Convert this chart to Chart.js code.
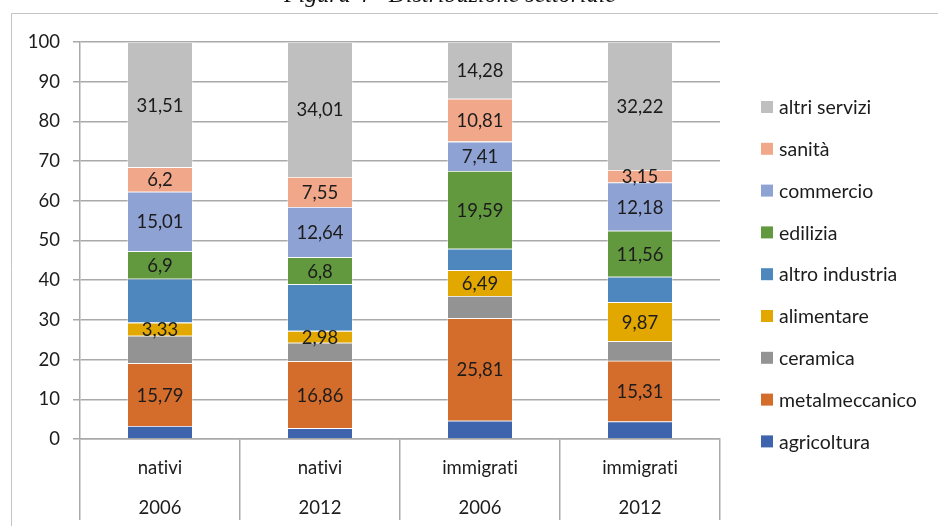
<!DOCTYPE html>
<html lang="it">
<head>
<meta charset="utf-8">
<title>Occupazione per settore</title>
<script src="https://cdn.jsdelivr.net/npm/chart.js@4.4.1/dist/chart.umd.min.js"></script>
<style>
  html, body { margin: 0; padding: 0; background: #fff; }
  #wrap { position: relative; width: 938px; height: 526px; }
</style>
</head>
<body>
<div id="wrap"><canvas id="sectorChart" width="938" height="526"></canvas></div>
<script>
// categories: two-level labels (group / year)
const groups = ["nativi", "nativi", "immigrati", "immigrati"];
const years = ["2006", "2012", "2006", "2012"];

// shares (%) per sector, bottom to top of each bar
const agricoltura = [3.3, 2.75, 4.6, 4.4];
const metalmeccanico = [15.79, 16.86, 25.81, 15.31];
const ceramica = [6.9, 4.65, 5.6, 4.9];
const alimentare = [3.33, 2.98, 6.49, 9.87];
const altroIndustria = [11.06, 11.76, 5.41, 6.41];
const edilizia = [6.9, 6.8, 19.59, 11.56];
const commercio = [15.01, 12.64, 7.41, 12.18];
const sanita = [6.2, 7.55, 10.81, 3.15];
const altriServizi = [31.51, 34.01, 14.28, 32.22];

const yTicks = [0, 10, 20, 30, 40, 50, 60, 70, 80, 90, 100];

// sectors whose values are printed on the bars
const labelledSeries = ["metalmeccanico", "alimentare", "edilizia", "commercio", "sanità", "altri servizi"];

const figureTitle = "Figura 4 - Distribuzione settoriale";

const FONT = "Lato, 'Open Sans', sans-serif";
const TEXT = "#1c1c1c";
const GRID = "#a9a9a9";

const series = [
  { label: "agricoltura", data: agricoltura, color: "#3e64ad" },
  { label: "metalmeccanico", data: metalmeccanico, color: "#d46c2b" },
  { label: "ceramica", data: ceramica, color: "#939393" },
  { label: "alimentare", data: alimentare, color: "#e3a800" },
  { label: "altro industria", data: altroIndustria, color: "#4e87bd" },
  { label: "edilizia", data: edilizia, color: "#62993e" },
  { label: "commercio", data: commercio, color: "#8fa2d4" },
  { label: "sanità", data: sanita, color: "#f1a88a" },
  { label: "altri servizi", data: altriServizi, color: "#bfbfbf" },
];

// light frame around the figure, caption above it (cut by the page edge)
const framePlugin = {
  id: "frame",
  beforeDraw(chart) {
    const ctx = chart.ctx;
    // no "ti"/"fi" ligatures in the labels
    ctx.textRendering = "optimizeSpeed";
    ctx.save();
    ctx.font = "italic 24px 'Liberation Serif', 'DejaVu Serif', serif";
    ctx.fillStyle = "#111";
    ctx.textBaseline = "alphabetic";
    ctx.fillText(figureTitle, 284, 2);
    ctx.strokeStyle = "#c4c4c4";
    ctx.lineWidth = 1;
    ctx.beginPath();
    ctx.moveTo(11.5, chart.height);
    ctx.lineTo(11.5, 13.5);
    ctx.lineTo(chart.width, 13.5);
    ctx.stroke();
    ctx.restore();
  },
};

// value labels in the middle of each segment
const valueLabels = {
  id: "valueLabels",
  afterDatasetsDraw(chart) {
    const ctx = chart.ctx;
    ctx.save();
    ctx.font = "18.5px " + FONT;
    ctx.fillStyle = TEXT;
    ctx.textAlign = "center";
    ctx.textBaseline = "middle";
    chart.data.datasets.forEach((ds, i) => {
      if (!labelledSeries.includes(ds.label)) return;
      chart.getDatasetMeta(i).data.forEach((bar, j) => {
        const txt = String(ds.data[j]).replace(".", ",");
        ctx.fillText(txt, bar.x, (bar.y + bar.base) / 2 + 1);
      });
    });
    ctx.restore();
  },
};

// legend on the right, top series first
const sideLegend = {
  id: "sideLegend",
  afterDraw(chart) {
    const ctx = chart.ctx;
    const x = chart.chartArea.right + 41;
    const top = 107;
    const step = 41.8;
    ctx.save();
    ctx.font = "19.5px " + FONT;
    ctx.textBaseline = "middle";
    ctx.textAlign = "left";
    const items = chart.data.datasets.slice().reverse();
    items.forEach((ds, k) => {
      const y = top + k * step;
      ctx.fillStyle = ds.backgroundColor;
      ctx.fillRect(x, y - 6, 12, 12);
      ctx.fillStyle = TEXT;
      ctx.fillText(ds.label, x + 18, y + 1);
    });
    ctx.restore();
  },
};

new Chart(document.getElementById("sectorChart"), {
  type: "bar",
  data: {
    labels: groups.map((g, i) => [g, years[i]]),
    datasets: series.map((s) => ({
      label: s.label,
      data: s.data,
      backgroundColor: s.color,
      borderColor: "rgba(255,255,255,0.55)",
      borderWidth: 0.8,
      barPercentage: 0.41,
      categoryPercentage: 1.0,
    })),
  },
  options: {
    responsive: false,
    animation: false,
    devicePixelRatio: 1,
    layout: { padding: { top: 42, right: 218, left: 0, bottom: 0 } },
    plugins: {
      legend: { display: false },
      tooltip: { enabled: false },
    },
    scales: {
      x: {
        stacked: true,
        afterFit: (scale) => { scale.height = 87; },
        grid: {
          offset: true,
          drawOnChartArea: false,
          drawTicks: true,
          tickLength: 81,
          color: GRID,
          lineWidth: 1.5,
        },
        border: { display: true, color: GRID, width: 1.5 },
        ticks: {
          padding: -72,
          color: TEXT,
          font: { family: FONT, size: 18.5, lineHeight: 2.16 },
          maxRotation: 0,
        },
      },
      y: {
        stacked: true,
        min: 0,
        max: 100,
        afterFit: (scale) => { scale.width = 80; },
        afterBuildTicks: (scale) => { scale.ticks = yTicks.map((v) => ({ value: v })); },
        grid: { color: GRID, lineWidth: 1.5, tickLength: 7 },
        border: { display: true, color: GRID, width: 1.5 },
        ticks: {
          padding: 13,
          color: TEXT,
          font: { family: FONT, size: 18.5 },
        },
      },
    },
  },
  plugins: [framePlugin, valueLabels, sideLegend],
});
</script>
</body>
</html>
